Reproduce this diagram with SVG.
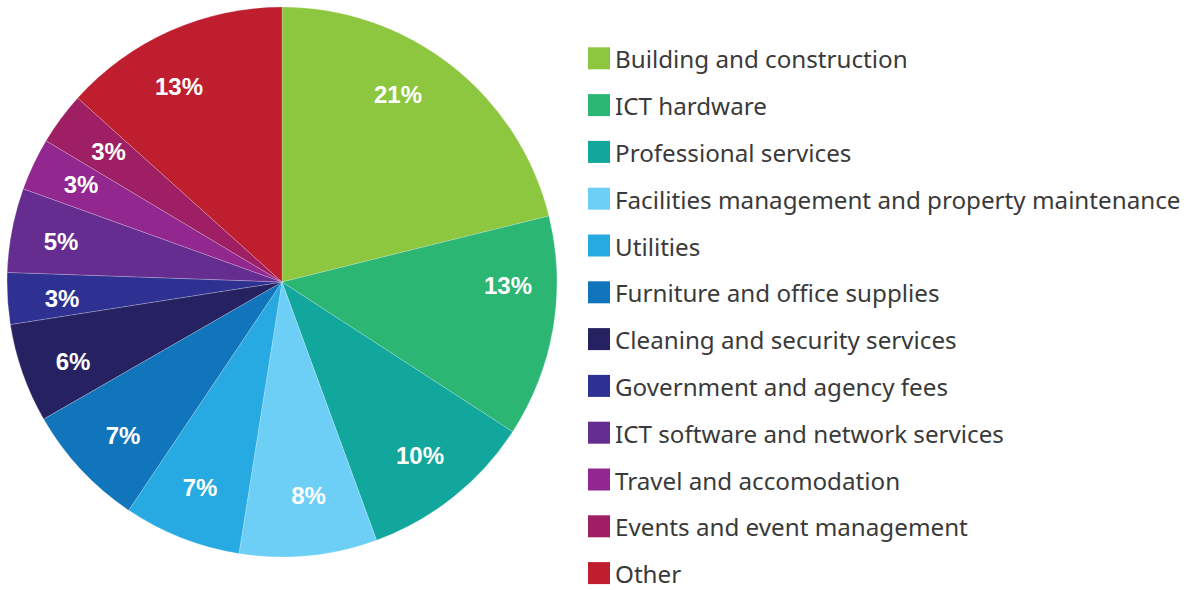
<svg xmlns="http://www.w3.org/2000/svg" width="1198" height="590" viewBox="0 0 1198 590">
<style>
.s{stroke:#ffffff;stroke-opacity:0.35;stroke-width:0.6}
.p{font-family:"Liberation Sans",Arial,sans-serif;font-weight:bold;font-size:24px;fill:#ffffff;text-anchor:middle}
.l{font-family:"Noto Sans","DejaVu Sans",sans-serif;font-size:24.2px;fill:#3a3a3a}
</style>
<rect width="1198" height="590" fill="#ffffff"/>
<g id="pie">
<g id="slice-building"><path class="s" fill="#8DC63F" d="M282,282 L282,7 A275,275 0 0 1 548.95,215.94 Z"/><text class="p" x="398" y="102.5">21%</text></g>
<g id="slice-ict-hardware"><path class="s" fill="#2BB673" d="M282,282 L548.95,215.94 A275,275 0 0 1 512.63,431.78 Z"/><text class="p" x="508" y="293.5">13%</text></g>
<g id="slice-professional"><path class="s" fill="#12A79D" d="M282,282 L512.63,431.78 A275,275 0 0 1 376.51,540.25 Z"/><text class="p" x="420" y="464">10%</text></g>
<g id="slice-facilities"><path class="s" fill="#6DCFF6" d="M282,282 L376.51,540.25 A275,275 0 0 1 238.98,553.61 Z"/><text class="p" x="308.5" y="504">8%</text></g>
<g id="slice-utilities"><path class="s" fill="#27AAE1" d="M282,282 L238.98,553.61 A275,275 0 0 1 128.67,510.29 Z"/><text class="p" x="200" y="496">7%</text></g>
<g id="slice-furniture"><path class="s" fill="#1175BB" d="M282,282 L128.67,510.29 A275,275 0 0 1 43.60,419.08 Z"/><text class="p" x="123" y="444">7%</text></g>
<g id="slice-cleaning"><path class="s" fill="#262262" d="M282,282 L43.60,419.08 A275,275 0 0 1 10.31,324.55 Z"/><text class="p" x="73" y="370">6%</text></g>
<g id="slice-government"><path class="s" fill="#2E3192" d="M282,282 L10.31,324.55 A275,275 0 0 1 7.17,272.40 Z"/><text class="p" x="62" y="306.5">3%</text></g>
<g id="slice-ict-software"><path class="s" fill="#662D91" d="M282,282 L7.17,272.40 A275,275 0 0 1 23.26,188.85 Z"/><text class="p" x="61" y="250">5%</text></g>
<g id="slice-travel"><path class="s" fill="#92278F" d="M282,282 L23.26,188.85 A275,275 0 0 1 46.04,140.76 Z"/><text class="p" x="81" y="192.5">3%</text></g>
<g id="slice-events"><path class="s" fill="#9E1F63" d="M282,282 L46.04,140.76 A275,275 0 0 1 77.64,97.99 Z"/><text class="p" x="108.5" y="159.5">3%</text></g>
<g id="slice-other"><path class="s" fill="#BE1E2D" d="M282,282 L77.64,97.99 A275,275 0 0 1 282,7 Z"/><text class="p" x="179" y="94.5">13%</text></g>
</g>
<g id="legend">
<g id="leg-building"><rect x="588" y="47.3" width="22" height="22" fill="#8DC63F"/><text class="l" x="615" y="68.3">Building and construction</text></g>
<g id="leg-ict-hardware"><rect x="588" y="94.1" width="22" height="22" fill="#2BB673"/><text class="l" x="615" y="115.1">ICT hardware</text></g>
<g id="leg-professional"><rect x="588" y="140.9" width="22" height="22" fill="#12A79D"/><text class="l" x="615" y="161.9">Professional services</text></g>
<g id="leg-facilities"><rect x="588" y="187.7" width="22" height="22" fill="#6DCFF6"/><text class="l" x="615" y="208.7">Facilities management and property maintenance</text></g>
<g id="leg-utilities"><rect x="588" y="234.5" width="22" height="22" fill="#27AAE1"/><text class="l" x="615" y="255.5">Utilities</text></g>
<g id="leg-furniture"><rect x="588" y="281.3" width="22" height="22" fill="#1175BB"/><text class="l" x="615" y="302.3">Furniture and office supplies</text></g>
<g id="leg-cleaning"><rect x="588" y="328.1" width="22" height="22" fill="#262262"/><text class="l" x="615" y="349.1">Cleaning and security services</text></g>
<g id="leg-government"><rect x="588" y="374.9" width="22" height="22" fill="#2E3192"/><text class="l" x="615" y="395.9">Government and agency fees</text></g>
<g id="leg-ict-software"><rect x="588" y="421.7" width="22" height="22" fill="#662D91"/><text class="l" x="615" y="442.7">ICT software and network services</text></g>
<g id="leg-travel"><rect x="588" y="468.5" width="22" height="22" fill="#92278F"/><text class="l" x="615" y="489.5">Travel and accomodation</text></g>
<g id="leg-events"><rect x="588" y="515.3" width="22" height="22" fill="#9E1F63"/><text class="l" x="615" y="536.3">Events and event management</text></g>
<g id="leg-other"><rect x="588" y="562.1" width="22" height="22" fill="#BE1E2D"/><text class="l" x="615" y="583.1">Other</text></g>
</g>
</svg>
